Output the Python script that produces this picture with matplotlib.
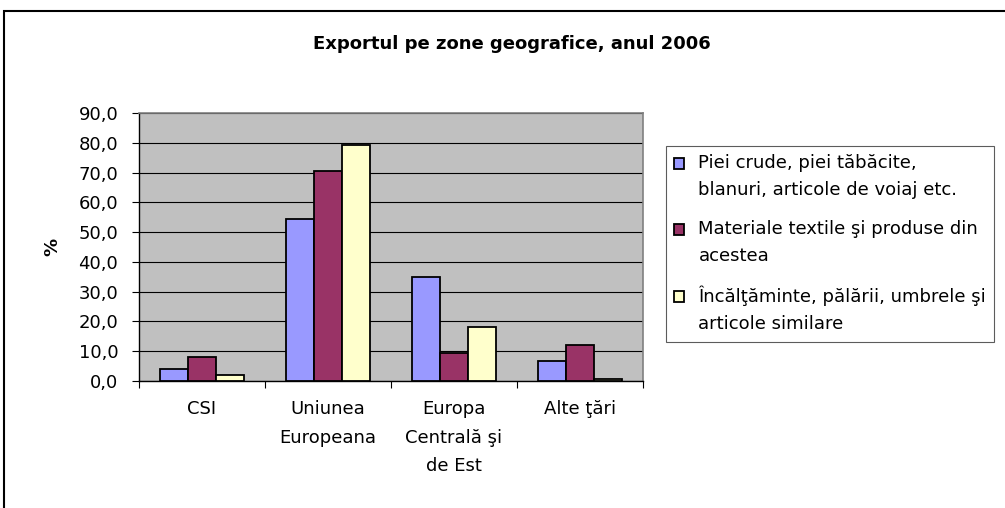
import matplotlib.pyplot as plt
import numpy as np
from matplotlib.patches import Rectangle
from matplotlib.container import BarContainer
from matplotlib.legend_handler import HandlerPatch, update_from_first_child

categories = ['CSI', 'Uniunea\nEuropeana', 'Europa\nCentrală şi\nde Est', 'Alte ţări']
series_names = ['Piei crude, piei tăbăcite,\nblanuri, articole de voiaj etc.',
                'Materiale textile şi produse din\nacestea',
                'Încălţăminte, pălării, umbrele şi\narticole similare']
piei = [4.0, 54.4, 34.9, 6.7]
textile = [8.2, 70.6, 9.3, 12.1]
incaltaminte = [2.0, 79.3, 18.2, 0.6]
colors = ['#9999FF', '#993366', '#FFFFCC']
yticks = [0, 10, 20, 30, 40, 50, 60, 70, 80, 90]

plt.rcParams['font.family'] = ['DejaVu Sans']
FS = 13

fig = plt.figure(figsize=(10.05, 5.08), dpi=100)
ax = fig.add_axes([139 / 1005, 1 - 381 / 508, 504 / 1005, 268 / 508])
ax.set_facecolor('#C0C0C0')

x = np.arange(len(categories))
w = 0.22
for i, vals in enumerate([piei, textile, incaltaminte]):
    ax.bar(x + (i - 1) * w, vals, w, color=colors[i], edgecolor='black',
           linewidth=1.3, label=series_names[i], zorder=3)

ax.set_xlim(-0.5, len(categories) - 0.5)
ax.set_ylim(0, 90)
ax.set_yticks(yticks)
ax.set_yticklabels([f'{v:.1f}'.replace('.', ',') for v in yticks], fontsize=FS)
ax.yaxis.grid(True, color='black', linewidth=0.8, zorder=1)
ax.set_axisbelow(True)

ax.set_xticks(x)
ax.set_xticklabels(categories, fontsize=FS, linespacing=1.72, va='top')
ax.tick_params(axis='x', which='major', length=0, pad=14)
ax.set_xticks(np.arange(-0.5, len(categories)), minor=True)
ax.tick_params(axis='x', which='minor', length=5, width=0.8, direction='out')
ax.tick_params(axis='y', length=5, width=0.8, direction='out', pad=10)

for s in ['top', 'right']:
    ax.spines[s].set_color('#808080')
    ax.spines[s].set_linewidth(1.2)
for s in ['left', 'bottom']:
    ax.spines[s].set_color('black')
    ax.spines[s].set_linewidth(1.0)

ax.set_ylabel('%', fontsize=FS, fontweight='bold', labelpad=12)

fig.text(512 / 1005, 1 - 44 / 508, 'Exportul pe zone geografice, anul 2006',
         ha='center', va='center', fontsize=13, fontweight='bold')


# legend square sits next to the first line of a two-line label
def top_square(legend, orig_handle, xdescent, ydescent, width, height, fontsize):
    return Rectangle((-xdescent, -ydescent + 10), width, height)


leg = fig.legend(loc='upper left', bbox_to_anchor=(666 / 1005, 1 - 146 / 508),
                 fontsize=FS, frameon=True, fancybox=False, edgecolor='#333333',
                 handlelength=0.55, handleheight=0.55, handletextpad=0.8,
                 labelspacing=1.15, borderpad=0.45, borderaxespad=0,
                 handler_map={BarContainer: HandlerPatch(
                     patch_func=top_square, update_func=update_from_first_child)})
leg.get_frame().set_linewidth(0.8)
for t in leg.get_texts():
    t.set_linespacing(1.65)

fig.patches.append(Rectangle((4 / 1005, -0.1), 1.1, 0.1 + 1 - 11 / 508,
                             transform=fig.transFigure, fill=False,
                             edgecolor='black', linewidth=1.5))

fig.savefig('out.png', dpi=100)
